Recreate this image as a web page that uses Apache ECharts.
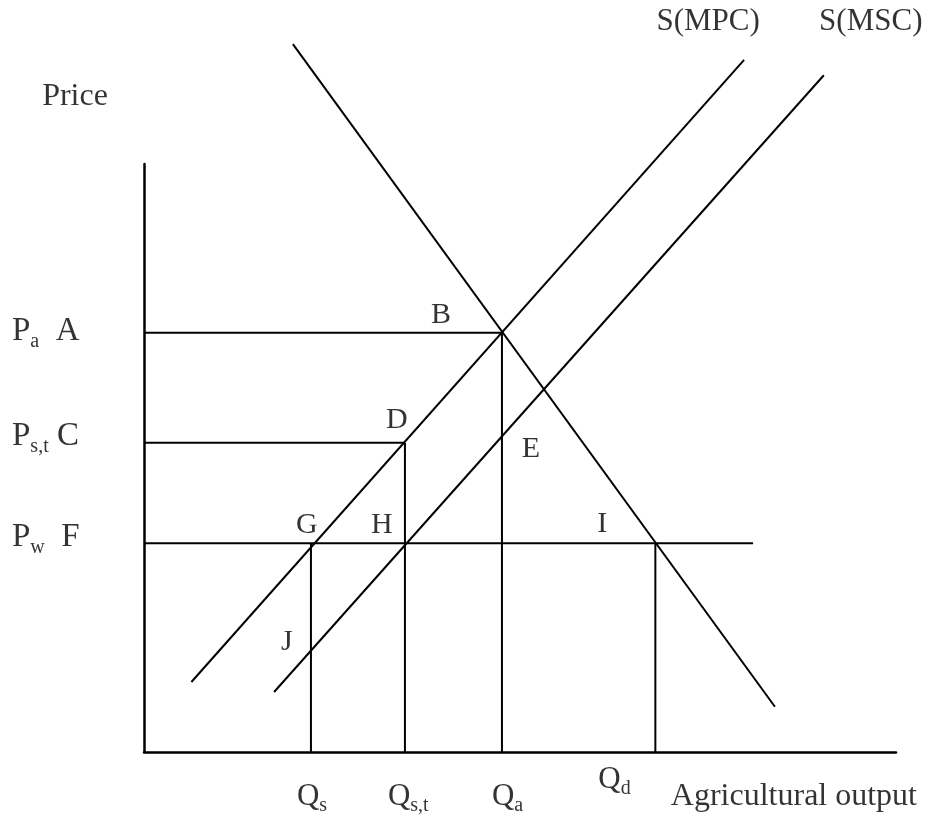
<!DOCTYPE html>
<html><head><meta charset="utf-8">
<script src="https://cdn.jsdelivr.net/npm/echarts@6/dist/echarts.min.js"></script>
<style>html,body{margin:0;padding:0;background:#fff}#c{width:927px;height:821px}</style>
</head><body><div id="c"></div>
<script>
// ---- data (abstract units, axes 0..100) ----
const demandLine = [[19.8, 120.4], [83.9, 7.7]];
const mpcLine = [[6.3, 11.9], [79.8, 117.7]];
const mscLine = [[17.3, 10.2], [90.4, 115.1]];
const priceLevels = [71.3, 52.6, 35.5];          // Pa, Ps,t, Pw
const priceSubs = ['a', 's,t', 'w'];
const priceLetters = ['A', 'C', 'F'];
const quantities = [22.2, 34.7, 47.6, 68.0];     // Qs, Qs,t, Qa, Qd
const quantitySubs = ['s', 's,t', 'a', 'd'];
const worldPriceEnd = 81.0;
const axisMax = [100, 100];
const curveNames = ['S(MPC)', 'S(MSC)'];
const axisTitles = ['Price', 'Agricultural output'];

const FONT = "'Liberation Serif','Times New Roman',serif";
const INK = { color: '#000' };
const [Pa, Pst, Pw] = priceLevels;
const [Qs, Qst, Qa, Qd] = quantities;
function yOn(line, x) {
  const [[x1, y1], [x2, y2]] = line;
  return y1 + (x - x1) * (y2 - y1) / (x2 - x1);
}

const segs = [
  demandLine, mpcLine, mscLine,
  [[0, Pa], [Qa, Pa]],
  [[0, Pst], [Qst, Pst]],
  [[0, Pw], [worldPriceEnd, Pw]],
  [[Qs, 0], [Qs, Pw]],
  [[Qst, 0], [Qst, Pst]],
  [[Qa, 0], [Qa, Pa]],
  [[Qd, 0], [Qd, Pw]]
];

const lineSeries = segs.map(d => ({
  type: 'line', data: d, clip: false, symbol: 'none', silent: true,
  lineStyle: { color: '#000', width: 2 }, animation: false
}));

function lab(pt, text, offset, extra) {
  return {
    value: pt,
    label: Object.assign({
      show: true, position: 'inside', formatter: text, offset: offset,
      align: 'center', verticalAlign: 'middle',
      fontFamily: FONT, fontSize: 30
    }, INK, extra || {})
  };
}
const richP = {
  m: Object.assign({ fontFamily: FONT, fontSize: 33, lineHeight: 40, verticalAlign: 'middle' }, INK),
  s: Object.assign({ fontFamily: FONT, fontSize: 20, lineHeight: 18, verticalAlign: 'bottom' }, INK)
};
const richQ = {
  m: Object.assign({ fontFamily: FONT, fontSize: 31, lineHeight: 38, verticalAlign: 'middle' }, INK),
  s: Object.assign({ fontFamily: FONT, fontSize: 20, lineHeight: 16, verticalAlign: 'bottom' }, INK)
};

const labels = [];
// point letters
labels.push(lab([Qa, Pa], 'B', [-61, -18]));
labels.push(lab([Qst, Pst], 'D', [-8, -23]));
labels.push(lab([Qa, yOn(mscLine, Qa)], 'E', [29, 13]));
labels.push(lab([Qs, Pw], 'G', [-4, -18]));
labels.push(lab([Qst, Pw], 'H', [-23, -18]));
labels.push(lab([Qd, Pw], 'I', [-53, -19]));
labels.push(lab([Qs, yOn(mscLine, Qs)], 'J', [-24, -9]));
// price labels
const pDy = [-1, -6, -6];
const pGap = ['  ', ' ', '  '];
priceLevels.forEach((p, i) => {
  labels.push(lab([0, p], '{m|P}{s|' + priceSubs[i] + '}{m|' + pGap[i] + priceLetters[i] + '}', [-132, pDy[i]],
    { align: 'left', rich: richP }));
});
// quantity labels
const qDx = [-14, -17, -10, -57];
const qDy = [45, 45, 45, 28];
quantities.forEach((q, i) => {
  labels.push(lab([q, 0], '{m|Q}{s|' + quantitySubs[i] + '}', [qDx[i], qDy[i]],
    { align: 'left', rich: richQ }));
});
// curve names
labels.push(lab(mpcLine[1], curveNames[0], [-36, -38], { fontSize: 31 }));
labels.push(lab(mscLine[1], curveNames[1], [47, -53], { fontSize: 31 }));
// axis titles
labels.push(lab([0, axisMax[1]], axisTitles[0], [-69, -67], { fontSize: 32 }));
labels.push(lab([axisMax[0], 0], axisTitles[1], [21, 45], { align: 'right', fontSize: 32 }));

const chart = echarts.init(document.getElementById('c'), null, { renderer: 'canvas' });
chart.setOption({
  animation: false,
  backgroundColor: '#fff',
  grid: { left: 144, right: 31, top: 164, bottom: 69 },
  xAxis: {
    type: 'value', min: 0, max: axisMax[0],
    axisLine: { show: true, onZero: false, lineStyle: { color: '#000', width: 2.5 } },
    axisTick: { show: false }, axisLabel: { show: false }, splitLine: { show: false }
  },
  yAxis: {
    type: 'value', min: 0, max: axisMax[1],
    axisLine: { show: true, onZero: false, lineStyle: { color: '#000', width: 2.5 } },
    axisTick: { show: false }, axisLabel: { show: false }, splitLine: { show: false }
  },
  series: lineSeries.concat([{
    type: 'scatter', data: labels, clip: false, symbolSize: 2, silent: true,
    itemStyle: { color: 'transparent' }, z: 5
  }])
});
</script></body></html>
